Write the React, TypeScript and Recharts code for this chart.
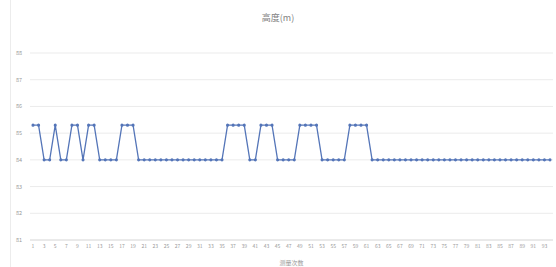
import { CartesianGrid, Line, LineChart, XAxis, YAxis } from "recharts";

// readings, one per sample (1..94)
const HI = 85.3;
const LO = 84.0;

const pattern: number[] = [
  HI, HI, LO, LO, HI, LO, LO, HI, HI, LO,
  HI, HI, LO, LO, LO, LO, HI, HI, HI, LO,
  LO, LO, LO, LO, LO, LO, LO, LO, LO, LO,
  LO, LO, LO, LO, LO, HI, HI, HI, HI, LO,
  LO, HI, HI, HI, LO, LO, LO, LO, HI, HI,
  HI, HI, LO, LO, LO, LO, LO, HI, HI, HI,
  HI, LO, LO, LO, LO, LO, LO, LO, LO, LO,
  LO, LO, LO, LO, LO, LO, LO, LO, LO, LO,
  LO, LO, LO, LO, LO, LO, LO, LO, LO, LO,
  LO, LO, LO, LO,
];

const samples: string[] = pattern.map((_, i) => String(i + 1));
const yTicks = [81, 82, 83, 84, 85, 86, 87, 88];

const data = samples.map((s, i) => ({ x: s, v: pattern[i] }));

export default function App() {
  return (
    <div
      style={{
        position: "fixed",
        left: 0,
        top: 0,
        width: 556,
        height: 267,
        background: "#fff",
        fontFamily: "'Noto Sans CJK SC', 'Noto Sans', sans-serif",
      }}
    >
      <div style={{ position: "absolute", left: 10, top: 0, width: 1, height: 267, background: "#ececec" }} />
      <div
        style={{
          position: "absolute",
          top: 11,
          left: 0,
          width: 556,
          textAlign: "center",
          fontSize: 9,
          color: "#7f7f7f",
        }}
      >
        高度(m)
      </div>
      <LineChart width={556} height={267} data={data} margin={{ top: 53, right: 3, bottom: 0, left: 0 }}>
        <CartesianGrid stroke="#ebebeb" vertical={false} />
        <XAxis
          dataKey="x"
          interval={1}
          height={27}
          padding={{ left: 3, right: 3 }}
          tick={{ fontSize: 5, fill: "#999" }}
          tickLine={false}
          tickSize={0}
          tickMargin={4}
          axisLine={{ stroke: "#dedede" }}
          label={{ value: "测量次数", position: "insideBottom", offset: 2, fontSize: 6, fill: "#999" }}
        />
        <YAxis
          domain={[81, 88]}
          ticks={yTicks}
          width={30}
          tick={{ fontSize: 5.5, fill: "#999" }}
          tickLine={false}
          axisLine={false}
        />
        <Line
          type="linear"
          dataKey="v"
          stroke="#5475b8"
          strokeWidth={1.3}
          dot={{ r: 0.9, fill: "#5475b8", stroke: "#5475b8" }}
          isAnimationActive={false}
        />
      </LineChart>
    </div>
  );
}
